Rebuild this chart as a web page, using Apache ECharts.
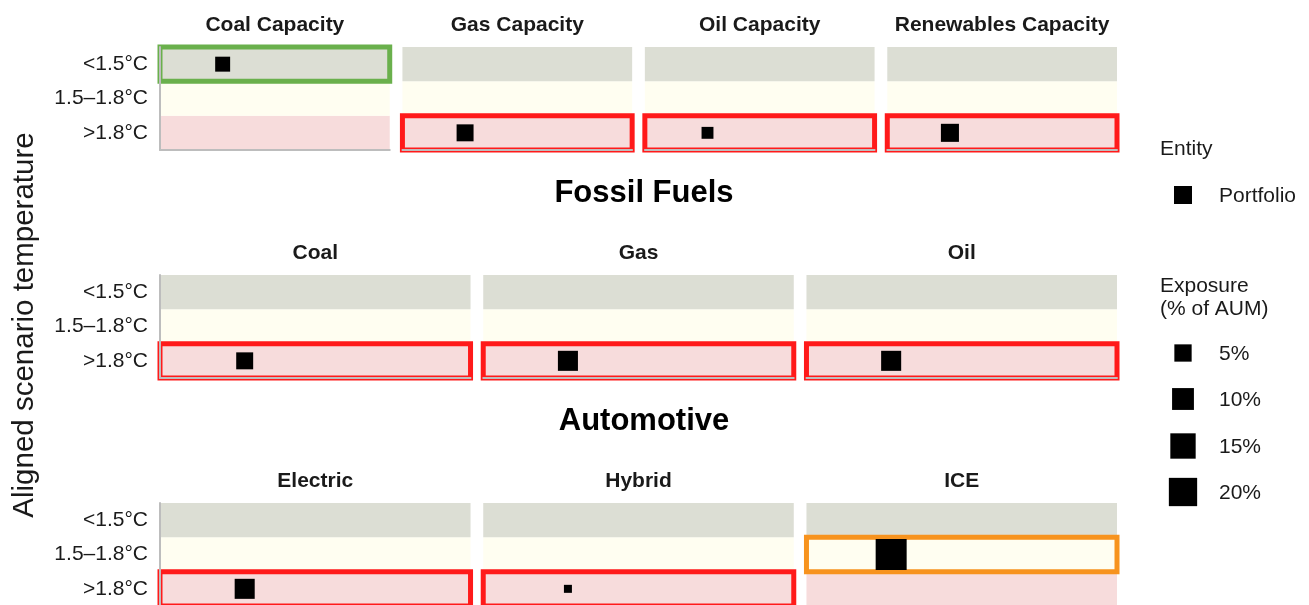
<!DOCTYPE html>
<html><head><meta charset="utf-8">
<script src="https://cdn.jsdelivr.net/npm/echarts@6/dist/echarts.min.js"></script>
<style>html,body{margin:0;padding:0;background:#fff}#c{width:1309px;height:605px}</style>
</head><body><div id="c"></div>
<script>
// ---------------- DATA ----------------
const tempLevels = ['>1.8°C', '1.5–1.8°C', '<1.5°C'];           // bottom -> top
const panelTitles = ['Coal Capacity', 'Gas Capacity', 'Oil Capacity', 'Renewables Capacity',
                     'Coal', 'Gas', 'Oil',
                     'Electric', 'Hybrid', 'ICE'];
const panelSector = [0, 0, 0, 0, 1, 1, 1, 2, 2, 2];
const sectorTitles = [null, 'Fossil Fuels', 'Automotive'];
const entities = ['Portfolio', 'Benchmark'];                         // x levels (only Portfolio plotted)
const alignedTemp = ['<1.5°C', '>1.8°C', '>1.8°C', '>1.8°C',
                     '>1.8°C', '>1.8°C', '>1.8°C',
                     '>1.8°C', '>1.8°C', '1.5–1.8°C'];
const exposure = [3.1, 4.7, 1.3, 5.7, 4.7, 7.8, 7.8, 7.8, 0.12, 25.2];  // % of AUM
const sizeBreaks = [5, 10, 15, 20];
const sizeBreakLabels = ['5%', '10%', '15%', '20%'];
const yAxisTitle = 'Aligned scenario temperature';
const legendEntityTitle = 'Entity';
const legendEntityLabel = 'Portfolio';
const legendSizeTitle = ['Exposure', '(% of AUM)'];

// ---------------- STYLE / LAYOUT ----------------
const FONT = "'Liberation Sans', Arial, Helvetica, sans-serif";
const TXT = '#1a1a1a';
const bandColors = ['#F7DCDC', '#FFFEF1', '#DCDED4'];
const flagColors = {'<1.5°C': '#6AB04C', '1.5–1.8°C': '#F7931E', '>1.8°C': '#FF1A1A'};
const AXIS_GREY = '#BDBDBD';
const X_MIN = 0.4, X_MAX = 2.6;   // discrete x with expansion
const portfolioX = entities.indexOf('Portfolio') + 1;
function sizeFor(v) { return 6.3 + 4.92 * Math.sqrt(v); }

const plotLeft = 160, plotRight = 1117, gap = 12.7;
const rowTop = [47, 275, 503];
const rowH = 103;
const rowCount = [4, 3, 3];

const grids = [], xAxes = [], yAxes = [], series = [], graphics = [];
const colIdx = [0, 0, 0];
const lineAxes = [];
panelTitles.forEach((t, i) => {
  const r = panelSector[i];
  const n = rowCount[r];
  const w = (plotRight - plotLeft - gap * (n - 1)) / n;
  const c = colIdx[r]++;
  const left = plotLeft + c * (w + gap);
  const first = c === 0;
  grids.push({left: left, top: rowTop[r], width: w, height: rowH, containLabel: false, outerBoundsMode: 'none'});
  xAxes.push({gridIndex: i, type: 'value', min: X_MIN, max: X_MAX, position: 'bottom',
    axisLine: {show: false}, axisTick: {show: false}, axisLabel: {show: false}, splitLine: {show: false}});
  yAxes.push({gridIndex: i, type: 'category', data: tempLevels, boundaryGap: true, position: 'left',
    axisLine: {show: false},
    axisTick: {show: false},
    axisLabel: {show: first, fontSize: 21, fontFamily: FONT, color: TXT, margin: 12},
    splitLine: {show: false},
    splitArea: {show: true, areaStyle: {color: bandColors, opacity: 1}}});
  lineAxes.push({i: i, first: first});
  const col = flagColors[alignedTemp[i]];
  series.push({type: 'custom', xAxisIndex: i, yAxisIndex: i, z: 3, silent: true, clip: false,
    data: [[portfolioX, tempLevels.indexOf(alignedTemp[i])]],
    renderItem: (params, api) => {
      const cat = api.value(1);
      const p0 = api.coord([X_MIN, cat]);
      const p1 = api.coord([X_MAX, cat]);
      const h = api.size([0, 1])[1];
      return {type: 'rect', shape: {x: p0[0], y: p0[1] - h / 2, width: p1[0] - p0[0], height: h},
        style: {fill: 'none', stroke: col, lineWidth: 5}};
    }});
  series.push({type: 'scatter', xAxisIndex: i, yAxisIndex: i, z: 4, silent: true,
    symbol: 'rect', symbolSize: v => sizeFor(v[2]),
    itemStyle: {color: '#000', opacity: 1},
    data: [[portfolioX, tempLevels.indexOf(alignedTemp[i]), exposure[i]]]});
  graphics.push({type: 'text', x: left + w / 2, y: rowTop[r] - 22,
    style: {text: t, font: 'bold 21px ' + FONT, fill: TXT, align: 'center', verticalAlign: 'middle',
            textAlign: 'center', textVerticalAlign: 'middle'}});
});
// overlay axes: axis lines drawn above the highlight frames
lineAxes.forEach(o => {
  xAxes.push({gridIndex: o.i, type: 'value', min: X_MIN, max: X_MAX, position: 'bottom', offset: 0, z: 10,
    axisLine: {show: true, onZero: false, lineStyle: {color: AXIS_GREY, width: 2}},
    axisTick: {show: false}, axisLabel: {show: false}, splitLine: {show: false}});
  if (o.first) {
    yAxes.push({gridIndex: o.i, type: 'category', data: tempLevels, boundaryGap: true, position: 'left', offset: 0, z: 10,
      axisLine: {show: true, onZero: false, lineStyle: {color: AXIS_GREY, width: 2}},
      axisTick: {show: false}, axisLabel: {show: false}, splitLine: {show: false}, splitArea: {show: false}});
  }
});
sectorTitles.forEach((s, r) => {
  if (!s) return;
  graphics.push({type: 'text', x: 644, y: rowTop[r] - 82,
    style: {text: s, font: 'bold 31px ' + FONT, fill: '#000', align: 'center', verticalAlign: 'middle',
            textAlign: 'center', textVerticalAlign: 'middle'}});
});
graphics.push({type: 'text', x: 25, y: 325, rotation: Math.PI / 2,
  style: {text: yAxisTitle, font: '29.5px ' + FONT, fill: TXT, align: 'center', verticalAlign: 'middle',
          textAlign: 'center', textVerticalAlign: 'middle'}});
// legend
const LX = 1160, KX = 1183, LBX = 1219;
function ltext(text, x, y) {
  graphics.push({type: 'text', x: x, y: y,
    style: {text: text, font: '21px ' + FONT, fill: TXT, align: 'left', verticalAlign: 'middle',
            textAlign: 'left', textVerticalAlign: 'middle'}});
}
function lsquare(cx, cy, s) {
  graphics.push({type: 'rect', shape: {x: cx - s / 2, y: cy - s / 2, width: s, height: s}, style: {fill: '#000'}});
}
ltext(legendEntityTitle, LX, 149);
lsquare(KX, 195, 18);
ltext(legendEntityLabel, LBX, 196);
ltext(legendSizeTitle[0], LX, 286);
ltext(legendSizeTitle[1], LX, 309);
const breakY = [353, 399, 446, 492];
sizeBreaks.forEach((b, k) => {
  lsquare(KX, breakY[k], sizeFor(b));
  ltext(sizeBreakLabels[k], LBX, breakY[k] + 1);
});

const chart = echarts.init(document.getElementById('c'), null, {renderer: 'canvas'});
chart.setOption({
  animation: false,
  backgroundColor: '#fff',
  grid: grids, xAxis: xAxes, yAxis: yAxes, series: series,
  graphic: graphics
});
</script></body></html>
